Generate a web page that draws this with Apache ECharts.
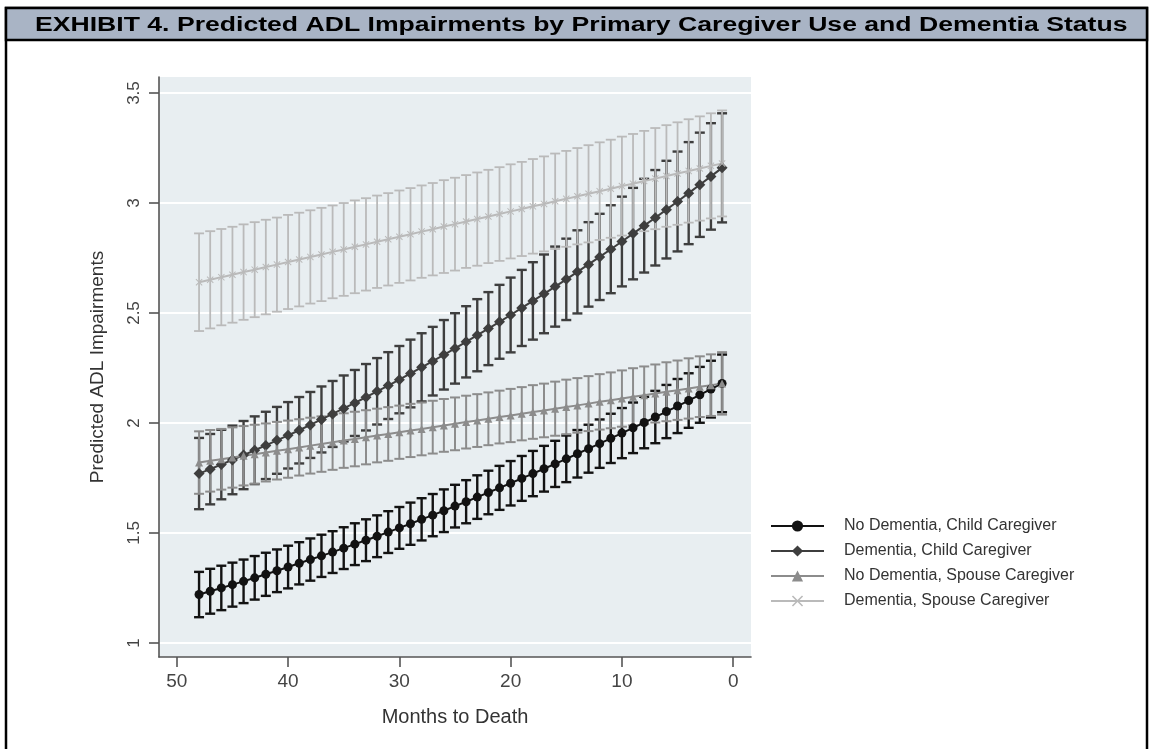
<!DOCTYPE html>
<html>
<head>
<meta charset="utf-8">
<script src="https://cdn.jsdelivr.net/npm/echarts@6/dist/echarts.min.js"></script>
<style>
html,body{margin:0;padding:0;background:#fff;}
#chart{width:1151px;height:749px;}
</style>
</head>
<body>
<div id="chart"></div>
<script>
// Months to death (x values), from 48 down to 1
const months = [48,47,46,45,44,43,42,41,40,39,38,37,36,35,34,33,32,31,30,29,28,27,26,25,24,23,22,21,20,19,18,17,16,15,14,13,12,11,10,9,8,7,6,5,4,3,2,1];

const seriesNames = ['No Dementia, Child Caregiver','Dementia, Child Caregiver','No Dementia, Spouse Caregiver','Dementia, Spouse Caregiver'];

// Predicted values
const noDemChild = [1.220,1.235,1.250,1.265,1.280,1.296,1.312,1.328,1.345,1.362,1.379,1.396,1.413,1.431,1.449,1.467,1.485,1.504,1.523,1.542,1.562,1.581,1.601,1.622,1.642,1.663,1.684,1.705,1.726,1.748,1.770,1.792,1.814,1.837,1.860,1.883,1.906,1.930,1.954,1.978,2.002,2.027,2.052,2.077,2.102,2.128,2.154,2.180];
const demChild = [1.770,1.790,1.811,1.832,1.854,1.876,1.898,1.921,1.944,1.967,1.991,2.016,2.041,2.066,2.091,2.117,2.144,2.170,2.197,2.225,2.253,2.281,2.310,2.339,2.369,2.399,2.429,2.460,2.491,2.523,2.555,2.587,2.620,2.653,2.687,2.721,2.755,2.790,2.825,2.861,2.897,2.933,2.970,3.007,3.045,3.083,3.121,3.160];
const noDemSpouse = [1.820,1.828,1.835,1.843,1.851,1.858,1.866,1.874,1.881,1.889,1.897,1.904,1.912,1.920,1.927,1.935,1.943,1.950,1.958,1.966,1.973,1.981,1.989,1.996,2.004,2.011,2.019,2.027,2.034,2.042,2.050,2.057,2.065,2.073,2.080,2.088,2.096,2.103,2.111,2.119,2.126,2.134,2.142,2.149,2.157,2.165,2.172,2.180];
const demSpouse = [2.640,2.651,2.663,2.674,2.686,2.697,2.709,2.720,2.732,2.743,2.755,2.766,2.778,2.789,2.801,2.812,2.824,2.835,2.847,2.858,2.870,2.881,2.893,2.904,2.916,2.927,2.939,2.950,2.962,2.973,2.985,2.996,3.008,3.019,3.031,3.042,3.054,3.065,3.077,3.088,3.100,3.111,3.123,3.134,3.146,3.157,3.169,3.180];

// Half-widths of the confidence intervals
const noDemChildCI = [0.103,0.102,0.101,0.100,0.099,0.099,0.098,0.097,0.097,0.096,0.096,0.096,0.095,0.095,0.095,0.095,0.095,0.095,0.095,0.096,0.096,0.096,0.097,0.097,0.098,0.099,0.099,0.100,0.101,0.102,0.103,0.104,0.105,0.106,0.108,0.109,0.110,0.112,0.114,0.115,0.117,0.119,0.121,0.123,0.124,0.127,0.129,0.131];
const demChildCI = [0.162,0.160,0.158,0.156,0.155,0.154,0.153,0.152,0.151,0.151,0.150,0.150,0.150,0.150,0.150,0.151,0.151,0.152,0.153,0.154,0.155,0.156,0.158,0.160,0.162,0.164,0.166,0.168,0.170,0.173,0.176,0.179,0.182,0.185,0.189,0.192,0.196,0.200,0.204,0.208,0.213,0.217,0.222,0.227,0.232,0.237,0.242,0.248];
const noDemSpouseCI = [0.142,0.140,0.138,0.137,0.135,0.134,0.132,0.131,0.130,0.128,0.127,0.126,0.125,0.124,0.124,0.123,0.122,0.122,0.121,0.121,0.120,0.120,0.120,0.120,0.120,0.120,0.120,0.120,0.121,0.121,0.122,0.122,0.123,0.124,0.124,0.125,0.126,0.127,0.128,0.130,0.131,0.132,0.134,0.135,0.137,0.138,0.140,0.142];
const demSpouseCI = [0.222,0.221,0.219,0.218,0.217,0.216,0.215,0.214,0.214,0.213,0.212,0.212,0.211,0.211,0.211,0.210,0.210,0.210,0.210,0.210,0.210,0.210,0.211,0.211,0.211,0.212,0.212,0.213,0.214,0.214,0.215,0.216,0.217,0.218,0.219,0.221,0.222,0.223,0.225,0.226,0.228,0.230,0.231,0.233,0.235,0.237,0.239,0.241];

const xTicks = [0,10,20,30,40,50];
const yTicks = [1,1.5,2,2.5,3,3.5];

const titleText = 'EXHIBIT 4. Predicted ADL Impairments by Primary Caregiver Use and Dementia Status';

const FONT = '"Liberation Sans", Arial, Helvetica, sans-serif';
const colors = ['#121212','#3e3e3e','#8c8c8c','#bababa'];
const xSymbol = 'path://M0,1L1,0L5,4L9,0L10,1L6,5L10,9L9,10L5,6L1,10L0,9L4,5Z';
const symbols = ['circle','diamond','triangle',xSymbol];
const symbolSizes = [9,11,8,7];
const means = [noDemChild, demChild, noDemSpouse, demSpouse];
const cis = [noDemChildCI, demChildCI, noDemSpouseCI, demSpouseCI];
const barWidths = [2.4,2.4,2,1.8];

function ciRender(color, lw) {
  return function (params, api) {
    const x = api.value(0);
    const top = api.coord([x, api.value(2)]);
    const bot = api.coord([x, api.value(1)]);
    const cw = 5;
    const st = { stroke: color, lineWidth: lw };
    return {
      type: 'group',
      children: [
        { type: 'line', shape: { x1: top[0], y1: top[1], x2: bot[0], y2: bot[1] }, style: st },
        { type: 'line', shape: { x1: top[0] - cw, y1: top[1], x2: top[0] + cw, y2: top[1] }, style: st },
        { type: 'line', shape: { x1: bot[0] - cw, y1: bot[1], x2: bot[0] + cw, y2: bot[1] }, style: st }
      ]
    };
  };
}

const series = [];
means.forEach((m, k) => {
  series.push({
    name: 'ci' + k,
    type: 'custom',
    silent: true,
    z: 2,
    renderItem: ciRender(colors[k], barWidths[k]),
    data: months.map((mo, i) => [mo, +(m[i] - cis[k][i]).toFixed(3), +(m[i] + cis[k][i]).toFixed(3)])
  });
});
means.forEach((m, k) => {
  series.push({
    name: seriesNames[k],
    type: 'line',
    z: 3,
    silent: true,
    symbol: symbols[k],
    symbolSize: symbolSizes[k],
    itemStyle: { color: colors[k] },
    lineStyle: { color: colors[k], width: 2 },
    data: months.map((mo, i) => [mo, m[i]])
  });
});

const chart = echarts.init(document.getElementById('chart'), null, { renderer: 'canvas' });
chart.setOption({
  animation: false,
  backgroundColor: '#ffffff',
  grid: { left: 159, right: 400, top: 77, bottom: 92, show: true, backgroundColor: '#E8EEF1', borderWidth: 0 },
  xAxis: {
    type: 'value', inverse: true, min: -1.6, max: 51.6,
    name: 'Months to Death', nameLocation: 'middle', nameGap: 50,
    nameTextStyle: { fontFamily: FONT, fontSize: 20, color: '#333' },
    axisLine: { show: true, onZero: false, lineStyle: { color: '#555', width: 1.6 } },
    axisTick: { show: true, length: 10, customValues: xTicks, lineStyle: { color: '#555', width: 1.6 } },
    axisLabel: { customValues: xTicks, fontFamily: FONT, fontSize: 19, color: '#444', margin: 15 },
    splitLine: { show: false }
  },
  yAxis: {
    type: 'value', min: 0.936, max: 3.573,
    name: 'Predicted ADL Impairments', nameLocation: 'middle', nameGap: 52, nameRotate: 90,
    nameTextStyle: { fontFamily: FONT, fontSize: 19, color: '#333' },
    axisLine: { show: true, onZero: false, lineStyle: { color: '#555', width: 1.6 } },
    axisTick: { show: true, length: 10, customValues: yTicks, lineStyle: { color: '#555', width: 1.6 } },
    axisLabel: { customValues: yTicks, rotate: 90, fontFamily: FONT, fontSize: 17, color: '#444', margin: 16 },
    splitLine: { show: true, lineStyle: { color: '#ffffff', width: 2 } }
  },
  legend: {
    data: seriesNames,
    orient: 'vertical',
    left: 770, top: 518, padding: 0,
    itemWidth: 53, itemHeight: 14, itemGap: 9,
    textStyle: { fontFamily: FONT, fontSize: 16, color: '#333', lineHeight: 14, padding: [0, 0, 0, 15] },
    selectedMode: false
  },
  series: series,
  graphic: [
    { type: 'rect', z: 100, shape: { x: 6, y: 8, width: 1141, height: 800 }, style: { fill: 'none', stroke: '#000', lineWidth: 2.5 } },
    { type: 'rect', z: 100, shape: { x: 6, y: 8, width: 1141, height: 32 }, style: { fill: '#A9B4C5', stroke: '#000', lineWidth: 2.5 } },
    { type: 'text', z: 101, x: 35, y: 25, scaleX: 1.33, style: { text: titleText, fontFamily: FONT, fontSize: 20, fontWeight: 'bold', fill: '#000', align: 'left', verticalAlign: 'middle' } }
  ]
});
</script>
</body>
</html>
